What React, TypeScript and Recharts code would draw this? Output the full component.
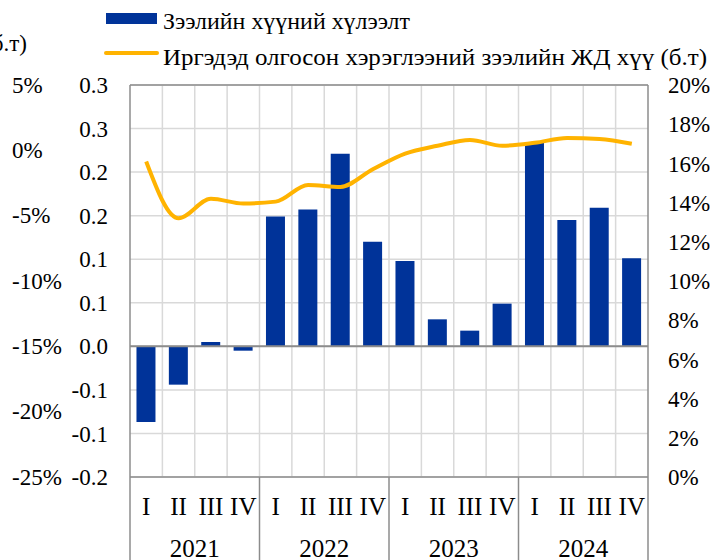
import React from 'react';
import { ComposedChart, Bar, Line, XAxis, YAxis, CartesianGrid, ReferenceLine } from 'recharts';

const quarters = ['I', 'II', 'III', 'IV', 'I', 'II', 'III', 'IV', 'I', 'II', 'III', 'IV', 'I', 'II', 'III', 'IV'];
const years = ['2021', '2022', '2023', '2024'];
const loanGrowth = [-0.087, -0.044, 0.005, -0.005, 0.149, 0.157, 0.221, 0.12, 0.098, 0.031, 0.018, 0.049, 0.234, 0.145, 0.159, 0.101];
const consumerRate = [16.1, 13.2, 14.2, 13.95, 14.05, 14.9, 14.8, 15.7, 16.5, 16.9, 17.2, 16.9, 17.05, 17.3, 17.25, 17.0];
const midTicks = [-0.15, -0.1, -0.05, 0, 0.05, 0.1, 0.15, 0.2, 0.25, 0.3];
const midTickLabels = ['-0.2', '-0.1', '-0.1', '0.0', '0.1', '0.1', '0.2', '0.2', '0.3', '0.3'];
const pctTicks = [-25, -20, -15, -10, -5, 0, 5];
const rateTicks = [0, 2, 4, 6, 8, 10, 12, 14, 16, 18, 20];
const legendLabels = ['Зээлийн хүүний хүлээлт', 'Иргэдэд олгосон хэрэглээний зээлийн ЖД хүү (б.т)'];
const leftTitle = '(б.т)';

const data = quarters.map((q, i) => ({
  key: `${years[Math.floor(i / 4)]}-${q}`,
  q,
  year: years[Math.floor(i / 4)],
  growth: loanGrowth[i],
  rate: consumerRate[i],
}));

const FONT = 'Liberation Serif, serif';
const W = 714;
const H = 560;
const PLOT_LEFT = 130;
const RIGHT_W = 66;
const PLOT_W = W - PLOT_LEFT - RIGHT_W;
const BW = PLOT_W / data.length;
const BLUE = '#003399';
const GOLD = '#FFB300';
const BORDER = '#8c8c8c';
const GRID = '#d9d9d9';
const Y_FS = 23;
const X_FS = 25;
const LEG_FS = 23;

const txt = (fs: number) => ({ fontFamily: FONT, fontSize: `${fs}px`, fill: '#000' });

const XTick = (props: any) => {
  const { x, y, index } = props;
  const d = data[index];
  if (!d) return null;
  return (
    <g>
      <text x={x} y={y + 29} textAnchor="middle" dominantBaseline="central" style={txt(X_FS)}>
        {d.q}
      </text>
      {index % 4 === 1 && (
        <text x={x + BW / 2} y={y + 71} textAnchor="middle" dominantBaseline="central" style={txt(X_FS)}>
          {d.year}
        </text>
      )}
      {index % 4 === 0 && (
        <line x1={x - BW / 2} x2={x - BW / 2} y1={y} y2={y + 90} stroke={BORDER} strokeWidth={1.5} />
      )}
      {index === data.length - 1 && (
        <line x1={x + BW / 2} x2={x + BW / 2} y1={y} y2={y + 90} stroke={BORDER} strokeWidth={1.5} />
      )}
    </g>
  );
};

const PctTick = (props: any) => {
  const { x, y, payload } = props;
  return (
    <text x={x} y={y} textAnchor="start" dominantBaseline="central" style={txt(Y_FS)}>
      {`${payload.value}%`}
    </text>
  );
};

const tickStyle = { fontSize: Y_FS, fontFamily: FONT, fill: '#000' };

export default function App() {
  return (
    <div style={{ position: 'absolute', left: 0, top: 0, width: W, height: H, background: '#fff', fontFamily: FONT }}>
      <ComposedChart
        width={W}
        height={H}
        data={data}
        margin={{ top: 85, right: 0, bottom: 0, left: 0 }}
        barCategoryGap="20%"
      >
        <CartesianGrid
          yAxisId="mid"
          stroke={GRID}
          strokeWidth={1.5}
          verticalCoordinatesGenerator={({ offset }: any) =>
            data.slice(1).map((_, i) => offset.left + ((i + 1) * offset.width) / data.length)
          }
        />
        <XAxis
          dataKey="key"
          interval={0}
          height={83}
          tickLine={false}
          tickSize={0}
          tickMargin={0}
          axisLine={{ stroke: BORDER, strokeWidth: 1.5 }}
          tick={<XTick />}
        />
        <YAxis
          yAxisId="mid"
          orientation="left"
          width={64}
          domain={[-0.15, 0.3]}
          ticks={midTicks}
          interval={0}
          tickLine={false}
          tickSize={0}
          tickMargin={22}
          axisLine={{ stroke: BORDER, strokeWidth: 1.5 }}
          tick={tickStyle}
          tickFormatter={(v: number) => midTickLabels[midTicks.findIndex((t) => Math.abs(t - v) < 1e-9)]}
        />
        <YAxis
          yAxisId="pct"
          orientation="left"
          type="number"
          width={66}
          domain={[-25, 5]}
          ticks={pctTicks}
          interval={0}
          tickLine={false}
          tickSize={0}
          tickMargin={54}
          axisLine={false}
          tick={<PctTick />}
        />
        <YAxis
          yAxisId="right"
          orientation="right"
          width={RIGHT_W}
          domain={[0, 20]}
          ticks={rateTicks}
          interval={0}
          tickLine={false}
          tickSize={0}
          tickMargin={20}
          axisLine={{ stroke: BORDER, strokeWidth: 1.5 }}
          tick={tickStyle}
          tickFormatter={(v: number) => `${v}%`}
        />
        <Bar yAxisId="mid" dataKey="growth" fill={BLUE} isAnimationActive={false} />
        <ReferenceLine yAxisId="mid" y={0} stroke={BORDER} strokeWidth={2} />
        <ReferenceLine yAxisId="pct" y={5} stroke={BORDER} strokeWidth={1.5} ifOverflow="extendDomain" />
        <Line
          yAxisId="right"
          dataKey="rate"
          type="monotone"
          stroke={GOLD}
          strokeWidth={4}
          dot={false}
          activeDot={false}
          isAnimationActive={false}
        />
      </ComposedChart>
      <svg width={W} height={75} style={{ position: 'absolute', left: 0, top: 0 }}>
        <rect x={106} y={13} width={51} height={11} fill={BLUE} />
        <text x={163} y={21} dominantBaseline="central" textLength={247} lengthAdjust="spacingAndGlyphs" style={txt(LEG_FS)}>
          {legendLabels[0]}
        </text>
        <line x1={106} x2={157} y1={53} y2={53} stroke={GOLD} strokeWidth={4} strokeLinecap="round" />
        <text x={163} y={57} dominantBaseline="central" textLength={544} lengthAdjust="spacingAndGlyphs" style={txt(LEG_FS)}>
          {legendLabels[1]}
        </text>
        <text x={27} y={43} textAnchor="end" dominantBaseline="central" style={txt(LEG_FS)}>
          {leftTitle}
        </text>
      </svg>
    </div>
  );
}
